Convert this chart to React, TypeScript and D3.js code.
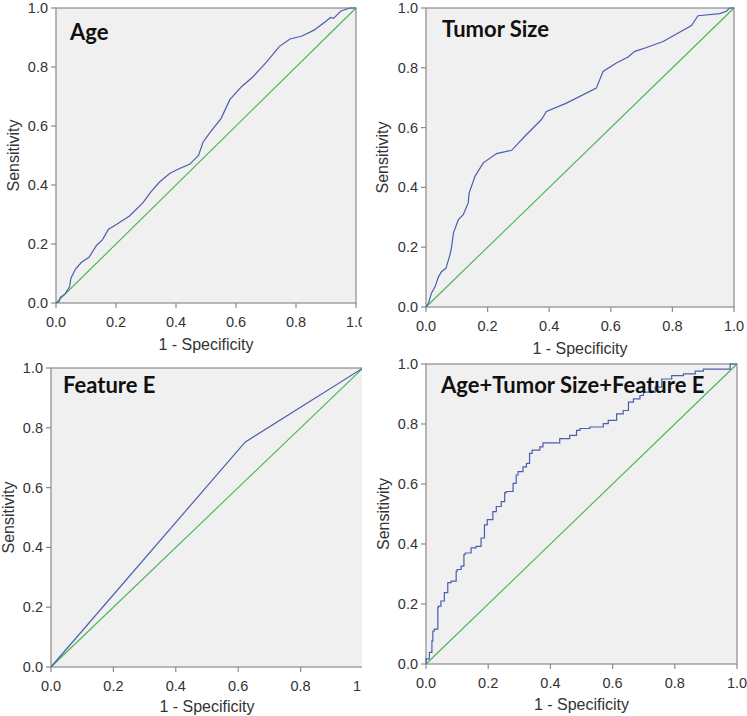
import React from "react";
import * as d3 from "d3";

// [1 - specificity, sensitivity]
const ageRoc: [number, number][] = [
  [0, 0], [0.01, 0.005], [0.015, 0.02], [0.03, 0.03], [0.045, 0.055], [0.05, 0.085],
  [0.065, 0.115], [0.085, 0.138], [0.11, 0.155], [0.135, 0.195], [0.155, 0.215],
  [0.175, 0.25], [0.2, 0.265], [0.245, 0.295], [0.29, 0.34], [0.315, 0.375],
  [0.345, 0.41], [0.38, 0.44], [0.41, 0.455], [0.445, 0.47], [0.475, 0.5],
  [0.49, 0.545], [0.515, 0.58], [0.55, 0.625], [0.58, 0.69], [0.62, 0.735],
  [0.655, 0.765], [0.7, 0.815], [0.745, 0.87], [0.78, 0.895], [0.82, 0.905],
  [0.86, 0.925], [0.9, 0.955], [0.915, 0.968], [0.925, 0.965], [0.95, 0.99],
  [0.98, 1.0], [1, 1],
];

const tumorRoc: [number, number][] = [
  [0, 0], [0.008, 0.013], [0.018, 0.047], [0.03, 0.069], [0.04, 0.1], [0.051, 0.119],
  [0.065, 0.13], [0.078, 0.175], [0.083, 0.2], [0.089, 0.247], [0.105, 0.292],
  [0.121, 0.309], [0.137, 0.348], [0.14, 0.381], [0.159, 0.437], [0.186, 0.482],
  [0.229, 0.513], [0.278, 0.524], [0.321, 0.571], [0.375, 0.627], [0.391, 0.654],
  [0.456, 0.682], [0.553, 0.732], [0.575, 0.788], [0.618, 0.816], [0.656, 0.836],
  [0.678, 0.855], [0.716, 0.868], [0.77, 0.888], [0.862, 0.941], [0.883, 0.974],
  [0.954, 0.981], [0.975, 0.989], [0.986, 1.0], [1, 1],
];

const featureRoc: [number, number][] = [[0, 0], [0.622, 0.752], [1, 1]];

const combinedRoc: [number, number][] = [
  [0, 0], [0.011, 0.017], [0.019, 0.039], [0.022, 0.077], [0.027, 0.11], [0.038, 0.116],
  [0.04, 0.188], [0.048, 0.193], [0.059, 0.21], [0.07, 0.238], [0.081, 0.271],
  [0.097, 0.276], [0.1, 0.309], [0.113, 0.315], [0.122, 0.326], [0.126, 0.365],
  [0.145, 0.37], [0.161, 0.387], [0.177, 0.392], [0.188, 0.42], [0.197, 0.464],
  [0.215, 0.481], [0.226, 0.508], [0.242, 0.525], [0.253, 0.541], [0.258, 0.571],
  [0.28, 0.575], [0.29, 0.602], [0.296, 0.63], [0.312, 0.641], [0.323, 0.657],
  [0.333, 0.669], [0.341, 0.702], [0.366, 0.713], [0.376, 0.724], [0.398, 0.737],
  [0.43, 0.737], [0.462, 0.751], [0.484, 0.762], [0.495, 0.779], [0.527, 0.785],
  [0.57, 0.79], [0.586, 0.801], [0.613, 0.812], [0.634, 0.834], [0.651, 0.845],
  [0.667, 0.873], [0.688, 0.884], [0.699, 0.895], [0.737, 0.906], [0.758, 0.923],
  [0.79, 0.95], [0.828, 0.961], [0.866, 0.967], [0.892, 0.976], [0.914, 0.983],
  [0.978, 0.983], [0.981, 1], [1, 1],
];

const reference: [number, number][] = [[0, 0], [1, 1]];
const ticks = [0, 0.2, 0.4, 0.6, 0.8, 1.0];

const BG = "#f0f0f0";
const AXIS = "#8a8a8a";
const BLUE = "#4b5eae";
const GREEN = "#45b54f";
const LABEL_FONT = "'Liberation Sans', Arial, sans-serif";
const TITLE_FONT = "Lato, 'Open Sans', sans-serif";

type PanelProps = {
  title: string;
  data: [number, number][];
  left: number;
  top: number;
  w: number;
  h: number;
  titleDx: number;
  titleDy: number;
  yTitleX: number;
  xTitleDy: number;
  stepped?: boolean;
};

function Panel({ title, data, left, top, w, h, titleDx, titleDy, yTitleX, xTitleDy, stepped }: PanelProps) {
  const x = d3.scaleLinear().domain([0, 1]).range([0, w]);
  const y = d3.scaleLinear().domain([0, 1]).range([h, 0]);
  const diag = d3
    .line<[number, number]>()
    .x((d) => x(d[0]))
    .y((d) => y(d[1]));
  const curve = d3
    .line<[number, number]>()
    .x((d) => x(d[0]))
    .y((d) => y(d[1]))
    .curve(stepped ? d3.curveStepBefore : d3.curveLinear);

  return (
    <g transform={`translate(${left},${top})`}>
      <rect x={0} y={0} width={w} height={h} fill={BG} stroke={AXIS} strokeWidth={1.2} />
      <path d={diag(reference) || ""} fill="none" stroke={GREEN} strokeWidth={1.1} />
      <path d={curve(data) || ""} fill="none" stroke={BLUE} strokeWidth={1.2} />
      {ticks.map((t) => (
        <g key={"x" + t} transform={`translate(${x(t)},${h})`}>
          <line y1={0} y2={5} stroke={AXIS} strokeWidth={1.2} />
          <text y={24} textAnchor="middle" fontSize={14.5} fill="#333" fontFamily={LABEL_FONT}>
            {t.toFixed(1)}
          </text>
        </g>
      ))}
      {ticks.map((t) => (
        <g key={"y" + t} transform={`translate(0,${y(t)})`}>
          <line x1={-5} x2={0} stroke={AXIS} strokeWidth={1.2} />
          <text x={-8} dy="0.35em" textAnchor="end" fontSize={14.5} fill="#333" fontFamily={LABEL_FONT}>
            {t.toFixed(1)}
          </text>
        </g>
      ))}
      <text
        transform={`translate(${yTitleX},${h / 2}) rotate(-90)`}
        dy="0.35em"
        textAnchor="middle"
        fontSize={16}
        fill="#333"
        fontFamily={LABEL_FONT}
      >
        Sensitivity
      </text>
      <text x={w / 2} y={h + xTitleDy} textAnchor="middle" fontSize={16} fill="#333" fontFamily={LABEL_FONT}>
        1 - Specificity
      </text>
      <text x={titleDx} y={titleDy} fontSize={22} fontWeight="bold" fill="#111" fontFamily={TITLE_FONT}>
        {title}
      </text>
    </g>
  );
}

export default function App() {
  return (
    <svg width={747} height={716} style={{ position: "absolute", left: 0, top: 0, background: "#fff" }}>
      <defs>
        <clipPath id="leftCol">
          <rect x={0} y={0} width={362} height={716} />
        </clipPath>
      </defs>
      <g clipPath="url(#leftCol)">
        <Panel title="Age" data={ageRoc} left={56} top={8} w={300} h={295}
          titleDx={14} titleDy={32} yTitleX={-43} xTitleDy={47} />
        <Panel title="Feature E" data={featureRoc} left={51} top={368} w={312} h={299}
          titleDx={12} titleDy={25} yTitleX={-43} xTitleDy={45} />
      </g>
      <Panel title="Tumor Size" data={tumorRoc} left={426} top={8} w={308} h={299}
        titleDx={16} titleDy={29} yTitleX={-44} xTitleDy={47} />
      <Panel title="Age+Tumor Size+Feature E" data={combinedRoc} left={426} top={364} w={311} h={300}
        titleDx={15} titleDy={29} yTitleX={-43} xTitleDy={46} stepped />
    </svg>
  );
}
